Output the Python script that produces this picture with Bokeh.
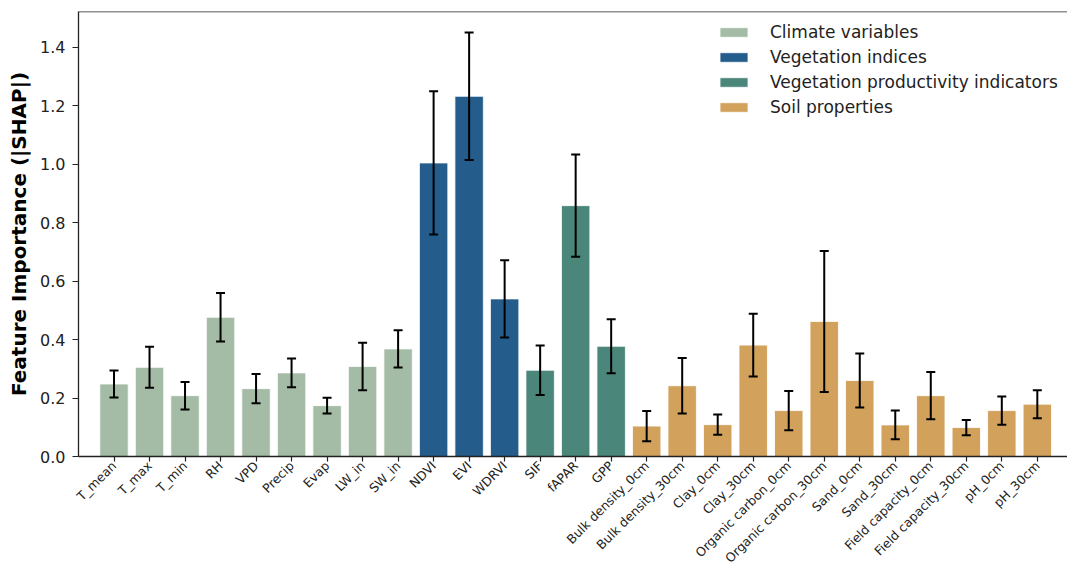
import math
from bokeh.plotting import figure
from bokeh.models import (ColumnDataSource, Range1d, FixedTicker, Whisker, TeeHead,
                          Span, Legend, LegendItem, NumeralTickFormatter)
from bokeh.embed import file_html
from bokeh.resources import INLINE

categories = ["T_mean", "T_max", "T_min", "RH", "VPD", "Precip", "Evap", "LW_in", "SW_in",
              "NDVI", "EVI", "WDRVI",
              "SIF", "fAPAR", "GPP",
              "Bulk density_0cm", "Bulk density_30cm", "Clay_0cm", "Clay_30cm",
              "Organic carbon_0cm", "Organic carbon_30cm", "Sand_0cm", "Sand_30cm",
              "Field capacity_0cm", "Field capacity_30cm", "pH_0cm", "pH_30cm"]
values = [0.248, 0.305, 0.208, 0.476, 0.232, 0.286, 0.174, 0.308, 0.368,
          1.004, 1.232, 0.539,
          0.295, 0.858, 0.377,
          0.104, 0.242, 0.109, 0.381, 0.157, 0.462, 0.260, 0.108,
          0.208, 0.099, 0.157, 0.179]
errors = [0.046, 0.070, 0.047, 0.083, 0.050, 0.049, 0.027, 0.081, 0.064,
          0.245, 0.218, 0.132,
          0.085, 0.175, 0.092,
          0.052, 0.095, 0.035, 0.107, 0.067, 0.241, 0.092, 0.049,
          0.081, 0.026, 0.048, 0.048]
groups = (["Climate variables"] * 9 + ["Vegetation indices"] * 3 +
          ["Vegetation productivity indicators"] * 3 + ["Soil properties"] * 12)
group_names = ["Climate variables", "Vegetation indices",
               "Vegetation productivity indicators", "Soil properties"]
group_colors = ["#a4bba5", "#245c8b", "#4b867b", "#d2a25c"]
y_ticks = [0.0, 0.2, 0.4, 0.6, 0.8, 1.0, 1.2, 1.4]

FONT = "DejaVu Sans"
Y_MAX = 1.522

p = figure(width=1067, height=573, output_backend="svg", toolbar_location=None,
           x_range=Range1d(-1, 26.85), y_range=Range1d(0, Y_MAX),
           min_border_left=78, min_border_right=0, min_border_top=11, min_border_bottom=100)
p.outline_line_color = None
p.xgrid.grid_line_color = None
p.ygrid.grid_line_color = None
p.background_fill_color = "white"

xs = list(range(len(categories)))
items = []
for g, c in zip(group_names, group_colors):
    idx = [i for i, gg in enumerate(groups) if gg == g]
    src = ColumnDataSource(dict(x=[xs[i] for i in idx], top=[values[i] for i in idx]))
    r = p.vbar(x="x", top="top", width=0.8, bottom=0, source=src,
               fill_color=c, line_color="white", line_width=1, line_alpha=0.8)
    items.append(LegendItem(label=g, renderers=[r]))

err_src = ColumnDataSource(dict(x=xs,
                                upper=[v + e for v, e in zip(values, errors)],
                                lower=[v - e for v, e in zip(values, errors)]))
wh = Whisker(base="x", upper="upper", lower="lower", source=err_src,
             line_color="black", line_width=2, level="overlay",
             upper_head=TeeHead(size=9, line_width=2, line_color="black"),
             lower_head=TeeHead(size=9, line_width=2, line_color="black"))
p.add_layout(wh)

p.add_layout(Span(location=Y_MAX, dimension="width", line_color="#222222", line_width=1.3))

# axes
p.yaxis.ticker = FixedTicker(ticks=y_ticks)
p.yaxis.formatter = NumeralTickFormatter(format="0.0")
p.yaxis.axis_label = "Feature Importance (|SHAP|)"
p.yaxis.axis_label_text_font = FONT
p.yaxis.axis_label_text_font_style = "bold"
p.yaxis.axis_label_text_font_size = "20px"
p.yaxis.axis_label_text_color = "black"
p.yaxis.axis_label_standoff = 6
p.yaxis.major_label_text_font = FONT
p.yaxis.major_label_text_font_size = "16px"
p.yaxis.major_label_text_color = "#222222"
p.yaxis.major_label_standoff = 7
p.yaxis.minor_tick_line_color = None
p.yaxis.major_tick_out = 6
p.yaxis.major_tick_in = 0

p.xaxis.ticker = FixedTicker(ticks=xs)
p.xaxis.major_label_overrides = {i: c for i, c in zip(xs, categories)}
p.xaxis.major_label_orientation = math.pi / 4
p.xaxis.major_label_text_font = FONT
p.xaxis.major_label_text_font_size = "12.5px"
p.xaxis.major_label_text_color = "#222222"
p.xaxis.major_label_standoff = 2
p.xaxis.minor_tick_line_color = None
p.xaxis.major_tick_out = 5
p.xaxis.major_tick_in = 0

for ax in (p.xaxis, p.yaxis):
    ax.axis_line_color = "#222222"
    ax.axis_line_width = 1.3
    ax.major_tick_line_color = "#222222"
    ax.major_tick_line_width = 1.2

legend = Legend(items=items, location=(638, 339), orientation="vertical",
                label_text_font=FONT, label_text_font_size="17px",
                label_text_color="#222222",
                glyph_width=35, glyph_height=12, label_height=20, spacing=5,
                label_standoff=19, padding=0, margin=0,
                border_line_color=None, background_fill_alpha=0)
p.add_layout(legend)

open("out.html", "w").write(file_html(p, INLINE))
